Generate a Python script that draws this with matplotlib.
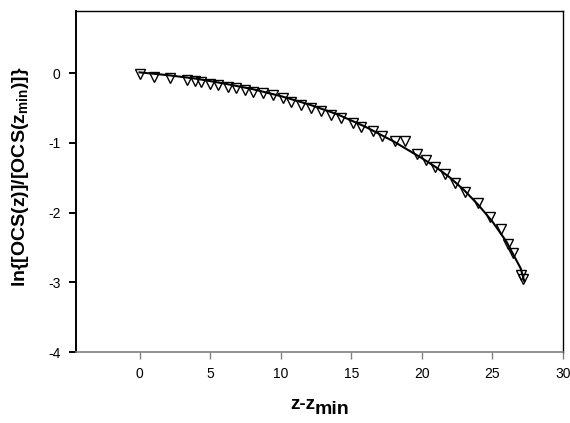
import matplotlib
matplotlib.use('Agg')
import matplotlib.pyplot as plt

plt.rcParams['font.family'] = ['Liberation Sans', 'DejaVu Sans']
plt.rcParams['mathtext.fontset'] = 'custom'
plt.rcParams['mathtext.rm'] = 'Liberation Sans'
plt.rcParams['mathtext.bf'] = 'Liberation Sans:bold'
plt.rcParams['mathtext.it'] = 'Liberation Sans:italic'
plt.rcParams['axes.unicode_minus'] = False

z_pts = [0.00, 1.06, 2.13, 3.35, 3.90, 4.32, 4.96, 5.55, 6.26, 6.85,
         7.44, 8.03, 8.74, 9.45, 10.16, 10.75, 11.46, 12.17, 12.88, 13.59,
         14.30, 15.12, 15.71, 16.53, 17.20, 18.07, 18.78, 19.65, 20.27, 20.91,
         21.62, 22.32, 23.03, 23.98, 24.81, 25.63, 26.10, 26.46, 27.05, 27.16]
ln_pts = [-0.02, -0.05, -0.07, -0.10, -0.12, -0.13, -0.16, -0.17, -0.20, -0.22,
          -0.24, -0.27, -0.29, -0.32, -0.36, -0.41, -0.46, -0.50, -0.55, -0.60,
          -0.65, -0.72, -0.77, -0.83, -0.90, -0.98, -0.98, -1.16, -1.25, -1.34,
          -1.45, -1.57, -1.70, -1.87, -2.06, -2.23, -2.45, -2.58, -2.89, -2.96]

# fitted curve
z_fit = [0, 2, 4, 6, 8, 10, 12, 14, 16, 18, 20, 21, 22, 23, 24, 25, 26, 27, 27.25]
ln_fit = [0.01, -0.03, -0.08, -0.15, -0.23, -0.33, -0.45, -0.59, -0.77, -0.98,
          -1.22, -1.35, -1.50, -1.68, -1.89, -2.13, -2.42, -2.80, -2.98]

x_ticks = [0, 5, 10, 15, 20, 25, 30]
y_ticks = [0, -1, -2, -3, -4]

W, H = 570, 423
fig = plt.figure(figsize=(W / 100, H / 100), dpi=100)
ax = fig.add_axes([76 / W, 1 - 352 / H, (563 - 76) / W, (352 - 11) / H])

ax.plot(z_pts, ln_pts, linestyle='none', marker='v', markersize=7.5,
        markerfacecolor='none', markeredgecolor='black', markeredgewidth=1.0, zorder=2)
ax.plot(z_fit, ln_fit, color='black', linewidth=1.5, zorder=3)

ax.set_xlim(-4.5, 30)
ax.set_ylim(-4, 0.89)
ax.set_xticks(x_ticks)
ax.set_yticks(y_ticks)

ax.spines['bottom'].set_color('#808080')
ax.spines['bottom'].set_linewidth(1.2)
ax.spines['left'].set_linewidth(1.4)
ax.spines['top'].set_linewidth(1.0)
ax.spines['right'].set_linewidth(1.0)

ax.tick_params(axis='x', direction='out', length=5, width=1, color='#808080',
               labelsize=10, pad=6)
ax.tick_params(axis='y', direction='out', length=5, width=1.4, color='black',
               labelsize=10, pad=6)

# x title: "z-z" with a lowered, nearly full-size "min", centred on the axis
t1 = fig.text(0, 1 - 409 / H, 'z-z', fontsize=13.5, fontweight='bold',
              ha='left', va='baseline')
t2 = fig.text(0, 1 - 414 / H, 'min', fontsize=14, fontweight='bold',
              ha='left', va='baseline')
r = fig.canvas.get_renderer()
w1 = t1.get_window_extent(r).width
w2 = t2.get_window_extent(r).width
x0 = 320 - (w1 + w2) / 2
t1.set_x(x0 / W)
t2.set_x((x0 + w1 - 1) / W)

fig.text(21 / W, 1 - 177 / H, r'ln{[OCS(z)]/[OCS($\mathbf{z_{min}}$)]}',
         fontsize=14, fontweight='bold', rotation=90, ha='center', va='center')

fig.savefig('out.png', dpi=100)
